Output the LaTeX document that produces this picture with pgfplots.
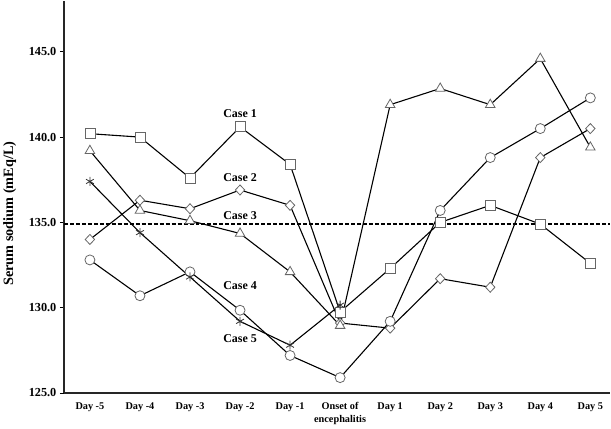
\documentclass[border=0pt]{standalone}
\usepackage{pgfplots}
\pgfplotsset{compat=1.18}
\usepackage{fontspec}
\setmainfont{Liberation Serif}

\begin{document}
\begin{tikzpicture}
\begin{axis}[
    scale only axis,
    width=546bp, height=392bp,
    xmin=-0.52, xmax=10.4,
    ymin=125, ymax=148,
    axis lines=left,
    axis line style={line width=1.3pt, black!85, -},
    xtick={0,...,10},
    xticklabels={Day -5,Day -4,Day -3,Day -2,Day -1,{Onset of\\encephalitis},Day 1,Day 2,Day 3,Day 4,Day 5},
    xticklabel style={font=\bfseries\fontsize{10.3}{13}\selectfont, align=center, anchor=north, yshift=-2pt},
    x tick style={draw=none},
    ytick={125,130,...,145},
    yticklabel style={font=\bfseries\fontsize{12.3}{12}\selectfont},
    y tick style={line width=0.8pt, black},
    tick align=outside,
    major tick length=4bp,
    /pgf/number format/.cd, fixed, fixed zerofill, precision=1, assume math mode=true,
    /pgfplots/.cd,
    ylabel={Serum sodium (mEq/L)},
    ylabel style={font=\bfseries\fontsize{14.3}{14}\selectfont, at={(axis description cs:-0.099,0.457)}, anchor=center},
    clip=false,
    every axis plot/.append style={line width=1.1pt, black},
]
% reference level
\addplot[line width=1.3pt, dash pattern=on 4pt off 2pt] coordinates {(-0.52,134.9) (10.4,134.9)};

% Case 1
\addplot[mark=square*, mark size=5bp, mark options={fill=white, draw=black!60, line width=0.8pt, solid}]
coordinates {(0,140.2) (1,140.0) (2,137.6) (3,140.6) (4,138.4) (5,129.75) (6,132.3) (7,135.0) (8,136.0) (9,134.9) (10,132.6)};
% Case 2
\addplot[mark=diamond*, mark size=5bp, mark options={fill=white, draw=black!60, line width=0.8pt, solid, xscale=1.25}]
coordinates {(0,134.0) (1,136.3) (2,135.8) (3,136.9) (4,136.0) (5,129.1) (6,128.8) (7,131.7) (8,131.2) (9,138.8) (10,140.5)};
% Case 3
\addplot[mark=triangle*, mark size=5.5bp, mark options={fill=white, draw=black!60, line width=0.8pt, solid}]
coordinates {(0,139.2) (1,135.7) (2,135.1) (3,134.35) (4,132.1) (5,128.95) (6,141.9) (7,142.85) (8,141.9) (9,144.6) (10,139.4)};
% Case 4
\addplot[mark=*, mark size=5bp, mark options={fill=white, draw=black!60, line width=0.8pt, solid}]
coordinates {(0,132.8) (1,130.7) (2,132.1) (3,129.85) (4,127.2) (5,125.9) (6,129.2) (7,135.7) (8,138.8) (9,140.5) (10,142.3)};
% Case 5
\addplot[mark=asterisk, mark size=4.5bp, mark options={draw=black!80, line width=0.8pt, solid}]
coordinates {(0,137.4) (1,134.4) (2,131.8) (3,129.2) (4,127.8) (5,130.15)};

\node[font=\bfseries\fontsize{12}{12}\selectfont] at (axis cs:3,141.4) {Case 1};
\node[font=\bfseries\fontsize{12}{12}\selectfont] at (axis cs:3,137.6) {Case 2};
\node[font=\bfseries\fontsize{12}{12}\selectfont] at (axis cs:3,135.4) {Case 3};
\node[font=\bfseries\fontsize{12}{12}\selectfont] at (axis cs:3,131.3) {Case 4};
\node[font=\bfseries\fontsize{12}{12}\selectfont] at (axis cs:3,128.2) {Case 5};
\end{axis}
\end{tikzpicture}
\end{document}
